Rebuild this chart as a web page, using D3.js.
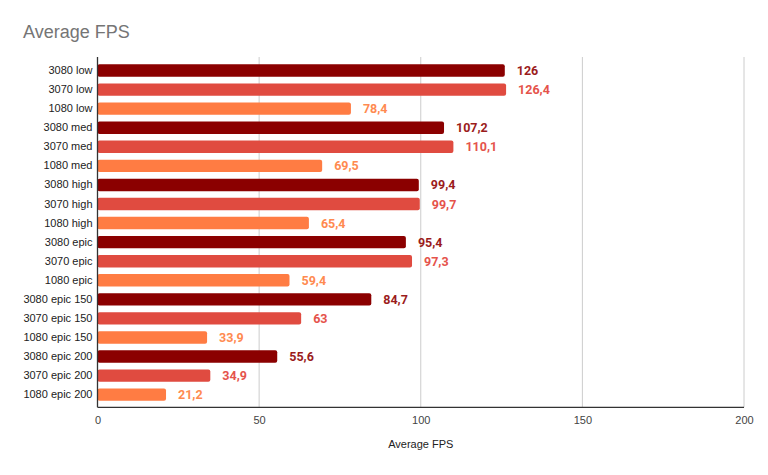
<!DOCTYPE html>
<html><head><meta charset="utf-8">
<script src="https://cdn.jsdelivr.net/npm/d3@7"></script>
<style>body{margin:0;background:#fff;}svg{display:block;font-family:"Liberation Sans", Arial, sans-serif;}</style>
</head><body>
<svg id="c" width="768" height="475"></svg>
<script>
const categories = ["3080 low","3070 low","1080 low","3080 med","3070 med","1080 med","3080 high","3070 high","1080 high","3080 epic","3070 epic","1080 epic","3080 epic 150","3070 epic 150","1080 epic 150","3080 epic 200","3070 epic 200","1080 epic 200"];
const values = [126,126.4,78.4,107.2,110.1,69.5,99.4,99.7,65.4,95.4,97.3,59.4,84.7,63,33.9,55.6,34.9,21.2];
const labels = ["126","126,4","78,4","107,2","110,1","69,5","99,4","99,7","65,4","95,4","97,3","59,4","84,7","63","33,9","55,6","34,9","21,2"];
const xTicks = [0,50,100,150,200];
const gpuOrder = ["3080","3070","1080"];
const barColors = ["#8b0000","#e04b40","#ff7c43"];
const labelColors = ["#9b1c1c","#e5534b","#ff8a50"];

(function(){
const svg = d3.select("#c");
const font = '"Liberation Sans", Arial, sans-serif';
const pLeft = 97.5, pRight = 744, pTop = 57, pBottom = 407.3;
const x = d3.scaleLinear().domain([0,200]).range([pLeft,pRight]);
const y = d3.scaleBand().domain(categories).range([61,404.2]).paddingInner(0.35).paddingOuter(0.175);
const color = d3.scaleOrdinal().domain(gpuOrder).range(barColors);
const lcolor = d3.scaleOrdinal().domain(gpuOrder).range(labelColors);
const gpu = c => c.split(" ")[0];

svg.append("text").attr("x",23).attr("y",38).attr("font-size",18).attr("fill","#757575").text("Average FPS");

// grid
svg.append("g").selectAll("line").data(xTicks.slice(1)).join("line")
  .attr("x1",d=>x(d)).attr("x2",d=>x(d)).attr("y1",pTop).attr("y2",pBottom)
  .attr("stroke","#cccccc").attr("stroke-width",1);

// bars
svg.append("g").selectAll("rect").data(categories).join("rect")
  .attr("x",x(0)).attr("y",d=>y(d)).attr("height",y.bandwidth())
  .attr("width",(d,i)=>x(values[i])-x(0)).attr("rx",2)
  .attr("fill",d=>color(gpu(d)));

// value labels
svg.append("g").selectAll("text").data(categories).join("text")
  .attr("x",(d,i)=>x(values[i])+12).attr("y",d=>y(d)+y.bandwidth()/2).attr("dy","0.36em")
  .attr("font-family","Roboto, sans-serif")
  .attr("font-size",12.5).attr("font-weight","bold").attr("fill",d=>lcolor(gpu(d)))
  .text((d,i)=>labels[i]);

// category labels
const yAxis = d3.axisLeft(y).tickSize(0).tickPadding(5);
const gy = svg.append("g").attr("transform",`translate(${pLeft},0)`).call(yAxis);
gy.select(".domain").remove();
gy.selectAll("text").attr("font-size",11).attr("fill","#222").attr("font-family",font);

// axis lines
svg.append("line").attr("x1",pLeft).attr("x2",pLeft).attr("y1",pTop).attr("y2",pBottom).attr("stroke","#333").attr("stroke-width",1.3);
svg.append("line").attr("x1",pLeft).attr("x2",pRight).attr("y1",pBottom).attr("y2",pBottom).attr("stroke","#333").attr("stroke-width",1.3);

// x tick labels
const xAxis = d3.axisBottom(x).tickValues(xTicks).tickSize(0).tickPadding(9);
const gx = svg.append("g").attr("transform",`translate(0,${pBottom})`).call(xAxis);
gx.select(".domain").remove();
gx.selectAll("text").attr("font-size",11).attr("fill","#444").attr("font-family",font);

svg.append("text").attr("x",(pLeft+pRight)/2).attr("y",448).attr("text-anchor","middle")
  .attr("font-size",11).attr("fill","#222").text("Average FPS");
})();
</script>
</body></html>
